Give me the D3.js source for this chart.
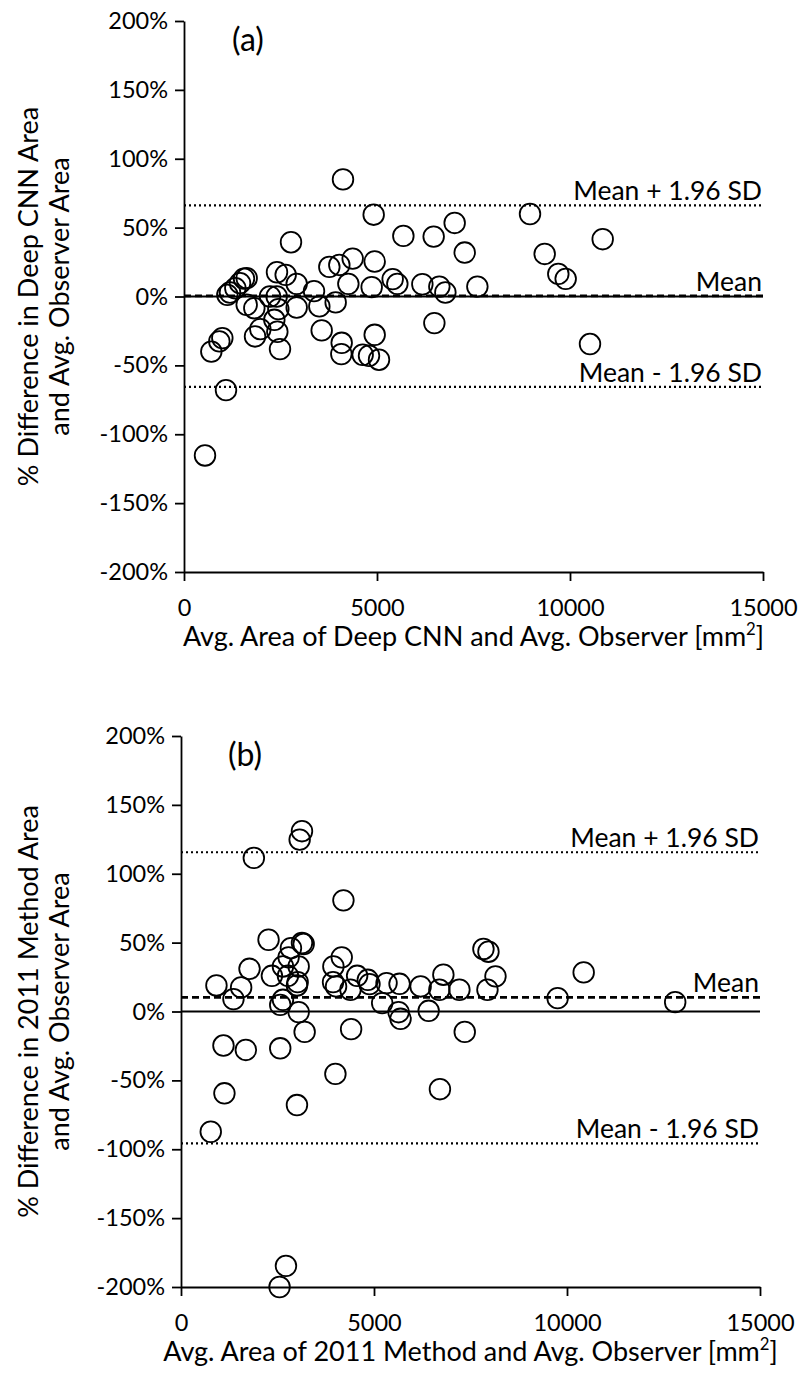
<!DOCTYPE html>
<html>
<head>
<meta charset="utf-8">
<script src="https://cdn.jsdelivr.net/npm/d3@7"></script>
<style>
  html, body { margin: 0; padding: 0; background: #fff; }
  svg { display: block; }
  text { font-family: Lato, "Open Sans", sans-serif; fill: #000; }
</style>
</head>
<body>
<svg id="chart" width="803" height="1383"></svg>
<script>
// Panel (a): Deep CNN vs. average observer
const areaA = [4119,4914,2772,5683,6468,7012,7272,7600,6615,6771,6175,6486,5406,5527,4940,4862,4370,4258,4024,3765,3929,3368,3506,3567,4085,4076,4940,4629,4793,5052,2919,2919,2634,2409,2401,2228,2444,2340,2418,2487,1978,1840,1822,1624,1624,1554,1451,1330,1192,1123,993,915,708,1088,544,8964,10847,9344,9697,9888,10518];
const diffA = [85,59.4,39.4,44,43.5,53.4,31.9,7.2,7.2,2.9,8.9,-19.3,12.6,9.2,25.4,6.8,27.5,9.2,22.9,21.5,-4.3,3.9,-7.2,-24.6,-33.6,-41.8,-27.8,-42.3,-43,-45.9,9.2,-8,15.7,17.6,0,0,-9.2,-16.9,-25.6,-38.2,-23.7,-29,-8.5,-6,13.3,13,9.7,6,2.9,1.2,-30.2,-32.6,-40,-68,-115.4,59.9,41.6,30.9,16.4,12.8,-34.5];
const limitsA = [66.2, 0.4, -65.6];   // mean + 1.96 SD, mean, mean - 1.96 SD

// Panel (b): 2011 method vs. average observer
const areaB = [3134,3074,1887,4208,2268,2848,3134,3178,2788,2641,3048,1775,2355,2771,3022,3004,918,1558,1359,2641,2571,3048,3203,1100,1680,2571,3948,4164,3939,4017,4390,4563,4840,4883,5325,5662,5212,5636,5688,6208,6416,6797,6693,7212,7351,4407,4000,7835,7965,8147,7939,9757,10432,12803,771,1125,3004,6708,2719,2553];
const diffB = [130.9,124.8,111.5,80.7,52.1,46,49.7,49,39.3,32.7,32.7,31,25.9,25.9,21.3,18.9,18.9,17.5,9,8.5,4.8,-0.5,-14.8,-24.7,-27.9,-26.7,32.7,39.3,21.3,18.2,15.8,25.9,23,19.9,20.6,20.1,6.1,-0.5,-5.3,18.2,0.5,26.7,15.8,15.8,-14.8,-12.8,-45.3,45.4,43.4,25.5,15.8,9.7,28.4,6.8,-87.3,-59.4,-67.9,-56.4,-184.7,-200];
const limitsB = [115.6, 10.2, -95.7];

const yTickValues = [-200,-150,-100,-50,0,50,100,150,200];
const xTickValues = [0,5000,10000,15000];
const limitLabels = ["Mean + 1.96 SD", "Mean", "Mean - 1.96 SD"];

const FS_TICK = 23.5;
const FS_TITLE = 27;
const FS_LABEL = 26.5;
const FS_TAG = 32;
const svg = d3.select("#chart");

function drawPanel(cfg) {
  const x = d3.scaleLinear().domain([0, 15000]).range([cfg.left, cfg.right]);
  const y = d3.scaleLinear().domain([-200, 200]).range([cfg.bottom, cfg.top]);
  const g = svg.append("g");

  // zero line
  g.append("line")
    .attr("x1", x(0)).attr("x2", x(15000))
    .attr("y1", y(0)).attr("y2", y(0))
    .attr("stroke", "#000").attr("stroke-width", 2);

  // limits of agreement and mean
  const styles = [
    { dash: "2,3", w: 2.2 },
    { dash: "7,4", w: 2.8 },
    { dash: "2,3", w: 2.2 }
  ];
  cfg.limits.forEach((v, i) => {
    g.append("line")
      .attr("x1", x(0)).attr("x2", x(15000))
      .attr("y1", y(v)).attr("y2", y(v))
      .attr("stroke", "#000")
      .attr("stroke-width", styles[i].w)
      .attr("stroke-dasharray", styles[i].dash);
    g.append("text")
      .attr("x", x(15000) - 1)
      .attr("y", y(v) - 5)
      .attr("text-anchor", "end")
      .attr("font-size", FS_LABEL)
      .text(limitLabels[i]);
  });

  // points
  g.append("g").selectAll("circle")
    .data(cfg.area.map((a, i) => [a, cfg.diff[i]]))
    .join("circle")
    .attr("cx", d => x(d[0]))
    .attr("cy", d => y(d[1]))
    .attr("r", 10.3)
    .attr("fill", "none")
    .attr("stroke", "#000")
    .attr("stroke-width", 1.8);

  // axes
  const yAxis = d3.axisLeft(y)
    .tickValues(yTickValues)
    .tickFormat(d => d + "%")
    .tickSize(9).tickSizeOuter(0).tickPadding(7);
  const ya = g.append("g").attr("transform", `translate(${x(0)},0)`).call(yAxis);

  const xAxis = d3.axisBottom(x)
    .tickValues(xTickValues)
    .tickFormat(d3.format("d"))
    .tickSize(9).tickSizeOuter(0).tickPadding(18);
  const xa = g.append("g").attr("transform", `translate(0,${y(-200)})`).call(xAxis);

  [ya, xa].forEach(a => {
    a.selectAll("path.domain").attr("stroke", "#000").attr("stroke-width", 1.8);
    a.selectAll(".tick line").attr("stroke", "#000").attr("stroke-width", 1.8);
    a.selectAll(".tick text").attr("font-size", FS_TICK).attr("font-family", "Lato, sans-serif").attr("fill", "#000");
  });

  // panel tag
  g.append("text")
    .attr("x", cfg.left + 64).attr("y", cfg.top + 30)
    .attr("text-anchor", "middle")
    .attr("font-size", FS_TAG)
    .text(cfg.tag);

  // x title with superscript
  const xt = g.append("text")
    .attr("x", (cfg.left + cfg.right) / 2)
    .attr("y", cfg.bottom + 74)
    .attr("text-anchor", "middle")
    .attr("font-size", FS_TITLE);
  xt.append("tspan").text(cfg.xTitle + " [mm");
  xt.append("tspan").attr("font-size", FS_TITLE * 0.62).attr("dy", -11).text("2");
  xt.append("tspan").attr("dy", 11).text("]");

  // y title, two lines
  const cy = y(0);
  cfg.yTitle.forEach((t, i) => {
    g.append("text")
      .attr("transform", `translate(${38 + i * 31},${cy}) rotate(-90)`)
      .attr("text-anchor", "middle")
      .attr("font-size", FS_TITLE)
      .text(t);
  });
}

drawPanel({
  left: 184, right: 763, top: 21, bottom: 572,
  area: areaA, diff: diffA, limits: limitsA, tag: "(a)",
  xTitle: "Avg. Area of Deep CNN and Avg. Observer",
  yTitle: ["% Difference in Deep CNN Area", "and Avg. Observer Area"]
});

drawPanel({
  left: 181, right: 760, top: 736, bottom: 1287,
  area: areaB, diff: diffB, limits: limitsB, tag: "(b)",
  xTitle: "Avg. Area of 2011 Method and Avg. Observer",
  yTitle: ["% Difference in 2011 Method Area", "and Avg. Observer Area"]
});
</script>
</body>
</html>
